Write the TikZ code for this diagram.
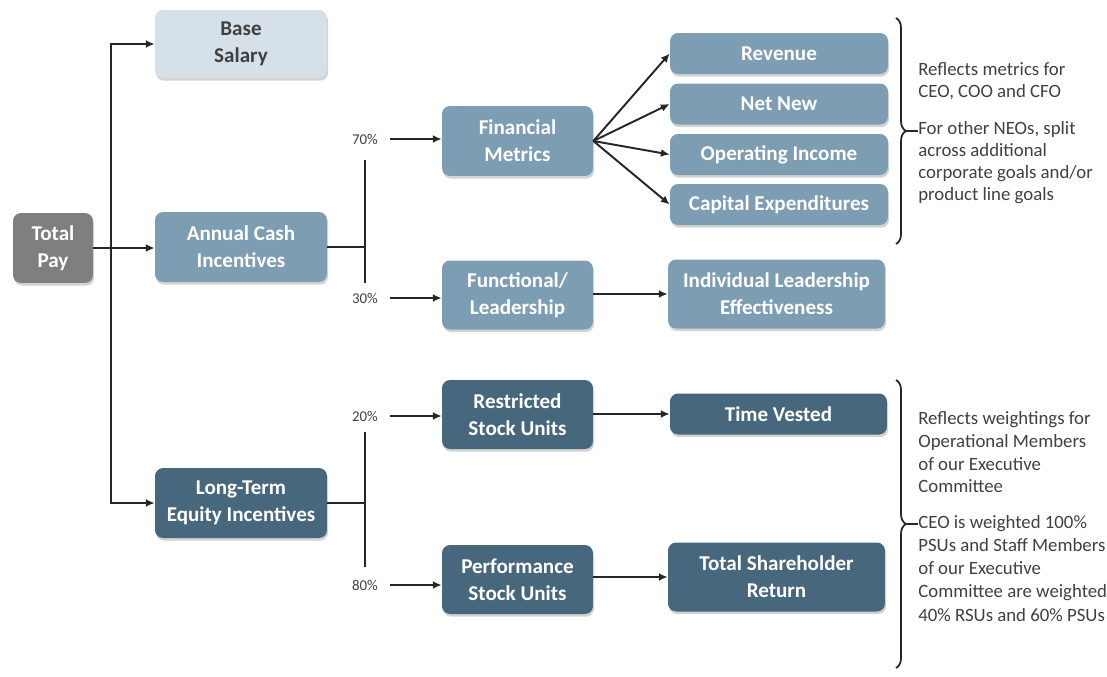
\documentclass[tikz,border=0pt]{standalone}
\usepackage{fontspec}
\setmainfont{Carlito}
\usetikzlibrary{arrows.meta, positioning, shadows, decorations.pathreplacing}
\definecolor{paygray}{HTML}{7F7F7F}
\definecolor{baseblue}{HTML}{D6E0E9}
\definecolor{midblue}{HTML}{7D9DB3}
\definecolor{darkblue}{HTML}{47677D}
\definecolor{txtgray}{HTML}{404040}
\definecolor{lngray}{HTML}{262626}

\begin{document}
\begin{tikzpicture}[x=0.02cm, y=-0.02cm,
  box/.style={rounded corners=0.16cm, align=center, inner sep=0pt, text=white,
    font=\fontsize{12}{15.5}\selectfont\bfseries,
    drop shadow={shadow xshift=0.6pt, shadow yshift=-1.5pt, opacity=0.35}},
  twoline/.style={minimum height=1.4cm},
  oneline/.style={minimum height=0.82cm},
  pct/.style={font=\fontsize{8.5}{10}\selectfont, text=txtgray, inner xsep=0.24cm, inner ysep=1pt},
  note/.style={text=txtgray, align=left, inner sep=0pt, anchor=north west},
  ln/.style={line width=1.1pt, draw=lngray},
  arr/.style={ln, -{Latex[length=5pt, width=4.5pt]}},
  brc/.style={ln, line width=1pt, decorate, decoration={brace, amplitude=0.2cm}}]

\useasboundingbox (0,0) rectangle (1107,677);

% first level
\node[box, twoline, fill=paygray, minimum width=1.6cm] (tot) at (53,248) {Total\\Pay};
\node[box, minimum height=1.36cm, fill=baseblue, text=txtgray, minimum width=3.44cm] (base) at (241,44) {Base\\Salary};
\node[box, twoline, fill=midblue, minimum width=3.44cm] (aci) at (241,247) {Annual Cash\\Incentives};
\node[box, twoline, fill=darkblue, minimum width=3.44cm] (lti) at (241,503) {Long-Term\\Equity Incentives};

\coordinate (spine) at (111,248);
\draw[arr] (tot.east) -- (tot.east -| aci.west);
\draw[arr] (spine) |- (base.west);
\draw[arr] (spine) |- (lti.west);

% annual cash split
\node[pct] (p70) at (365,139) {70\%};
\node[pct] (p30) at (365,298) {30\%};
\node[box, twoline, fill=midblue, minimum width=3.02cm] (fin) at (517.5,141) {Financial\\Metrics};
\node[box, minimum height=1.38cm, fill=midblue, minimum width=3.02cm] (func) at (517.5,295) {Functional/\\Leadership};
\draw[ln] (aci.east) -- (aci.east -| p70.center);
\draw[ln] ([yshift=-0.42cm]p70.center) -- ([yshift=0.3cm]p30.center);
\draw[arr] (p70.east) -- (p70.east -| fin.west);
\draw[arr] (p30.east) -- (p30.east -| func.west);

% financial metrics
\node[box, oneline, fill=midblue, minimum width=4.36cm] (rev) at (779,53.5) {Revenue};
\node[box, oneline, fill=midblue, minimum width=4.36cm] (netnew) at (779,104) {Net New};
\node[box, oneline, fill=midblue, minimum width=4.36cm] (opinc) at (779,154.5) {Operating Income};
\node[box, oneline, fill=midblue, minimum width=4.36cm] (capex) at (779,204.5) {Capital Expenditures};
\foreach \m in {rev,netnew,opinc,capex}
  \draw[arr] (fin.east) -- (\m.west);

\node[box, minimum height=1.38cm, fill=midblue, minimum width=4.34cm] (ile) at (776.5,294) {Individual Leadership\\Effectiveness};
\draw[arr] (func.east |- ile.west) -- (ile.west);

% equity split
\node[pct] (p20) at (365,416) {20\%};
\node[pct] (p80) at (365,585) {80\%};
\node[box, minimum height=1.38cm, fill=darkblue, minimum width=3.02cm] (rsu) at (517.5,414.5) {Restricted\\Stock Units};
\node[box, minimum height=1.38cm, fill=darkblue, minimum width=3.02cm] (psu) at (517.5,579.5) {Performance\\Stock Units};
\draw[ln] (lti.east) -- (lti.east -| p20.center);
\draw[ln] ([yshift=-0.32cm]p20.center) -- ([yshift=0.36cm]p80.center);
\draw[arr] (p20.east) -- (p20.east -| rsu.west);
\draw[arr] (p80.east) -- (p80.east -| psu.west);

\node[box, oneline, fill=darkblue, minimum width=4.34cm] (tv) at (778.5,414) {Time Vested};
\node[box, minimum height=1.38cm, fill=darkblue, minimum width=4.34cm] (tsr) at (776.5,577) {Total Shareholder\\Return};
\draw[arr] (rsu.east |- tv.west) -- (tv.west);
\draw[arr] (psu.east |- tsr.west) -- (tsr.west);

% braces and notes
\draw[brc] (896,18) -- (896,244);
\draw[brc] (896,380) -- (896,668);
\coordinate (tip1) at (906,131);
\coordinate (tip2) at (906,524);

\node[note, font=\fontsize{10.7}{12.6}\selectfont] (n1) at (918,62) {Reflects metrics for\\CEO, COO and CFO};
\node[note, font=\fontsize{10.7}{12.6}\selectfont] (n2) at (918,121) {For other NEOs, split\\across additional\\corporate goals and/or\\product line goals};
\node[note, font=\fontsize{10.7}{13}\selectfont] (n3) at (918,411) {Reflects weightings for\\Operational Members\\of our Executive\\Committee};
\node[note, font=\fontsize{10.7}{13.2}\selectfont] (n4) at (918,515) {CEO is weighted 100\%\\PSUs and Staff Members\\of our Executive\\Committee are weighted\\40\% RSUs and 60\% PSUs};
\draw[ln, line width=0.8pt] (tip1) -- (tip1 -| n2.west);
\draw[ln, line width=0.8pt] (tip2) -- (tip2 -| n4.west);
\end{tikzpicture}
\end{document}
